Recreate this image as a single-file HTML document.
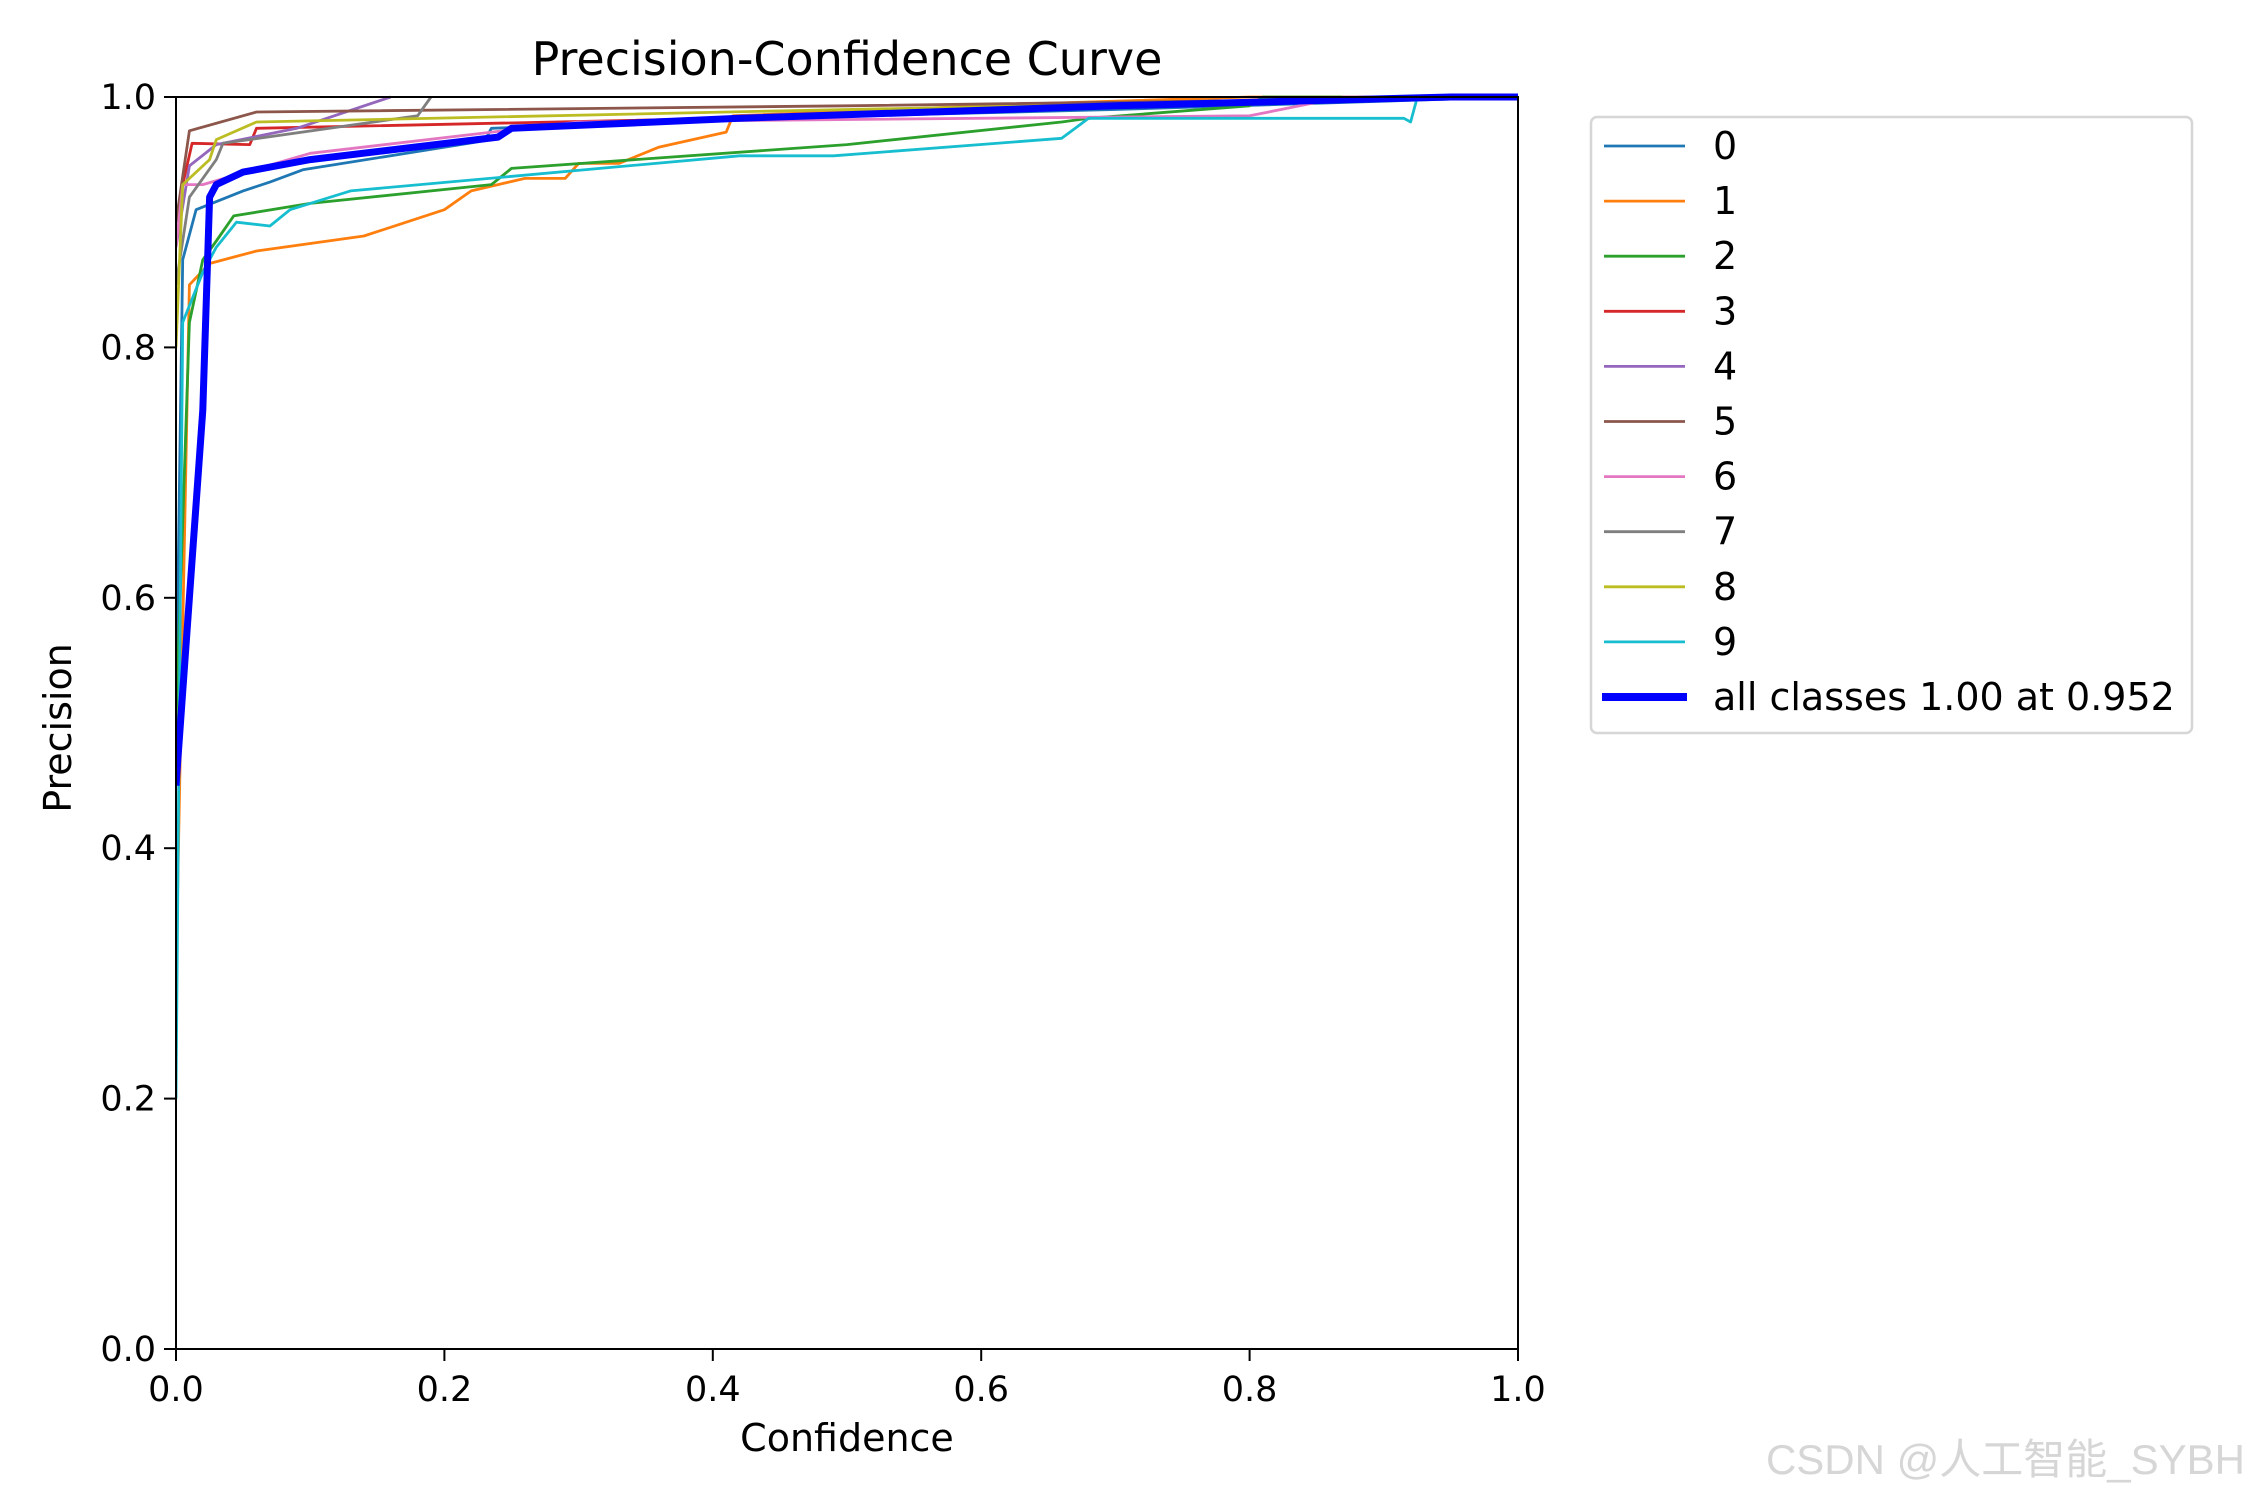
<!DOCTYPE html>
<html><head><meta charset="utf-8">
<style>
html,body{margin:0;padding:0;background:#fff;}
svg{display:block;}
text{font-family:"DejaVu Sans","Liberation Sans",sans-serif;fill:#000;}
</style></head>
<body>
<svg id="chart" width="2250" height="1500" viewBox="0 0 2250 1500" xmlns="http://www.w3.org/2000/svg">
<text x="847" y="75" font-size="46" text-anchor="middle">Precision-Confidence Curve</text>
<g id="plot"></g>
<g id="axes"></g>
<text x="847" y="1451" font-size="38" text-anchor="middle">Confidence</text>
<text x="0" y="0" font-size="38" text-anchor="middle" transform="translate(71,728) rotate(-90)">Precision</text>
<g id="legend"></g>
<text x="2245" y="1474" font-size="42" text-anchor="end" style="fill:#d6d6d6;font-family:'Liberation Sans','Noto Sans CJK SC',sans-serif">CSDN @人工智能_SYBH</text>
</svg>
<script>
const xTicks=[0,0.2,0.4,0.6,0.8,1.0];
const yTicks=[0,0.2,0.4,0.6,0.8,1.0];
const classNames=['0','1','2','3','4','5','6','7','8','9'];
const classColors=['#1f77b4','#ff7f0e','#2ca02c','#d62728','#9467bd','#8c564b','#e377c2','#7f7f7f','#bcbd22','#17becf'];
const c0=[[0,0.5],[0.005,0.87],[0.015,0.91],[0.05,0.925],[0.07,0.932],[0.095,0.942],[0.23,0.965],[0.235,0.975],[0.4,0.982],[0.7,0.99],[1,1]];
const c1=[[0,0.3],[0.01,0.85],[0.025,0.867],[0.06,0.877],[0.14,0.889],[0.2,0.91],[0.22,0.925],[0.26,0.935],[0.29,0.935],[0.3,0.947],[0.33,0.947],[0.36,0.96],[0.41,0.972],[0.415,0.985],[0.65,0.995],[0.8,1.0],[1,1]];
const c2=[[0,0.5],[0.01,0.82],[0.02,0.87],[0.03,0.885],[0.043,0.905],[0.1,0.915],[0.235,0.93],[0.25,0.943],[0.5,0.962],[0.66,0.98],[0.68,0.983],[0.8,0.993],[0.81,1],[1,1]];
const c3=[[0,0.9],[0.005,0.93],[0.012,0.963],[0.055,0.962],[0.06,0.975],[0.5,0.985],[0.75,0.995],[1,1]];
const c4=[[0,0.88],[0.01,0.945],[0.03,0.962],[0.09,0.975],[0.16,1.0]];
const c5=[[0,0.9],[0.01,0.973],[0.06,0.988],[0.5,0.993],[1,1]];
const c6=[[0,0.88],[0.005,0.93],[0.02,0.93],[0.1,0.955],[0.3,0.98],[0.8,0.985],[0.87,1],[1,1]];
const c7=[[0,0.85],[0.01,0.92],[0.03,0.95],[0.035,0.963],[0.18,0.985],[0.19,1.0]];
const c8=[[0,0.8],[0.005,0.93],[0.025,0.95],[0.03,0.966],[0.06,0.98],[0.5,0.99],[1,1]];
const c9=[[0,0.2],[0.005,0.82],[0.02,0.86],[0.03,0.88],[0.045,0.9],[0.07,0.897],[0.085,0.91],[0.13,0.925],[0.42,0.953],[0.49,0.953],[0.66,0.967],[0.68,0.983],[0.915,0.983],[0.92,0.98],[0.925,1],[1,1]];
const allClasses=[[0,0.45],[0.01,0.6],[0.02,0.75],[0.025,0.92],[0.03,0.93],[0.05,0.94],[0.1,0.95],[0.24,0.968],[0.25,0.975],[0.42,0.983],[0.7,0.993],[0.95,1],[1,1]];
const allLabel='all classes 1.00 at 0.952';
const series=[c0,c1,c2,c3,c4,c5,c6,c7,c8,c9];

const NS='http://www.w3.org/2000/svg';
const X0=176,X1=1518,Y0=1349,Y1=97;
const xs=v=>X0+v*(X1-X0);
const ys=v=>Y0-v*(Y0-Y1);
function mk(tag,attrs,parent){const e=document.createElementNS(NS,tag);for(const k in attrs)e.setAttribute(k,attrs[k]);parent.appendChild(e);return e;}
const plot=document.getElementById('plot'),axes=document.getElementById('axes'),legend=document.getElementById('legend');
mk('clipPath',{id:'clip'},plot).appendChild((()=>{const r=document.createElementNS(NS,'rect');r.setAttribute('x',X0);r.setAttribute('y',Y1-4);r.setAttribute('width',X1-X0);r.setAttribute('height',Y0-Y1+4);return r;})());
const pts=d=>d.map(p=>xs(p[0]).toFixed(1)+','+ys(p[1]).toFixed(1)).join(' ');
series.forEach((d,i)=>{
  const l=mk('polyline',{points:pts(d),fill:'none',stroke:classColors[i],'stroke-width':2.8,'stroke-linejoin':'round','clip-path':'url(#clip)'},plot);
  
  
});
const al=mk('polyline',{points:pts(allClasses),fill:'none',stroke:'#0000ff','stroke-width':7,'stroke-linejoin':'round','clip-path':'url(#clip)'},plot);


const frame=mk('rect',{x:X0,y:Y1,width:X1-X0,height:Y0-Y1,fill:'none',stroke:'#000','stroke-width':2},axes);


xTicks.forEach(t=>{
  mk('line',{x1:xs(t),x2:xs(t),y1:Y0,y2:Y0+12,stroke:'#000','stroke-width':2},axes);
  const tx=mk('text',{x:xs(t),y:Y0+52,'font-size':35,'text-anchor':'middle'},axes);
  tx.textContent=t.toFixed(1);
  
  
});
yTicks.forEach(t=>{
  mk('line',{x1:X0-12,x2:X0,y1:ys(t),y2:ys(t),stroke:'#000','stroke-width':2},axes);
  const tx=mk('text',{x:X0-20,y:ys(t)+12,'font-size':35,'text-anchor':'end'},axes);
  tx.textContent=t.toFixed(1);
  
  
});
const box=mk('rect',{x:1591,y:117,width:601,height:616,rx:6,fill:'#fff',stroke:'#d6d6d6','stroke-width':2.5},legend);


classNames.forEach((n,i)=>{
  const y=146+i*55.1;
  const ln=mk('line',{x1:1604,x2:1685,y1:y,y2:y,stroke:classColors[i],'stroke-width':2.8},legend);
  
  
  const tx=mk('text',{x:1713,y:y+13,'font-size':38},legend);
  tx.textContent=n;
  
  
});
{
  const y=146+10*55.1;
  const ln=mk('line',{x1:1602,x2:1687,y1:y,y2:y,stroke:'#0000ff','stroke-width':8},legend);
  
  
  const tx=mk('text',{x:1713,y:y+13,'font-size':38},legend);
  tx.textContent=allLabel;
  
  
}
</script>
</body></html>
